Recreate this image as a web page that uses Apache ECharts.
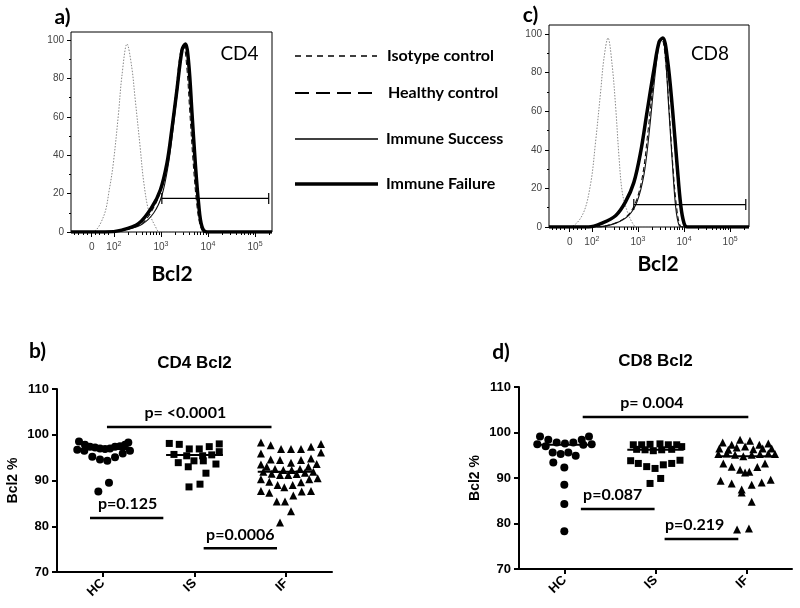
<!DOCTYPE html>
<html><head><meta charset="utf-8">
<script src="https://cdn.jsdelivr.net/npm/echarts@6/dist/echarts.min.js"></script>
<style>html,body{margin:0;padding:0;background:#fff}#c{width:800px;height:608px}</style>
</head><body><div id="c"></div>
<script>
// ---------- Histogram panels (x = Bcl2 fluorescence in decades, logicle display; y = % of max) ----------
const curveNames = ['Isotype control', 'Healthy control', 'Immune Success', 'Immune Failure'];
const histTickLabels = ['0', '10{s|2}', '10{s|3}', '10{s|4}', '10{s|5}'];
const cd4TickValues = [1.53, 2, 3, 4, 5];
const cd8TickValues = [1.52, 2, 3, 4, 5];
const histYTicks = [0, 20, 40, 60, 80, 100];
const histYMinor = [10, 30, 50, 70, 90];

const cd4Isotype = [[1.09,0],[1.53,0],[1.78,8],[1.91,23],[1.99,36],[2.10,62],[2.17,81],[2.28,98],[2.38,86],[2.45,70],[2.56,44],[2.63,27],[2.74,11],[2.88,3],[2.98,0],[5.36,0]];
const cd4Healthy = [[1.09,0],[1.9,0],[2.3,1.5],[2.6,4.5],[2.83,12],[3.0,22],[3.13,37],[3.23,55],[3.33,76],[3.42,94],[3.48,97],[3.55,86],[3.61,64],[3.68,38],[3.76,15],[3.84,3],[3.93,0],[5.36,0]];
const cd4Success = [[1.09,0],[1.9,0],[2.3,1.5],[2.6,4],[2.85,10],[3.02,19],[3.15,34],[3.25,52],[3.35,73],[3.45,94],[3.51,97],[3.58,88],[3.65,62],[3.72,36],[3.79,15],[3.86,3],[3.95,0],[5.36,0]];
const cd4Failure = [[1.09,0],[1.81,0],[2.17,1],[2.53,4.5],[2.81,13],[2.99,22],[3.13,36],[3.23,53],[3.34,74],[3.45,95],[3.52,98],[3.59,88],[3.66,62],[3.73,36],[3.80,15],[3.87,3],[3.98,0],[5.36,0]];
const cd4Gate = [[3.02,17.5],[5.29,17.5]];

const cd8Isotype = [[1.07,0],[1.50,0],[1.79,6],[1.97,22],[2.08,44],[2.19,70],[2.26,87],[2.35,98],[2.44,84],[2.52,61],[2.59,36],[2.66,18],[2.77,8],[2.91,1],[3.0,0],[5.41,0]];
const cd8Healthy = [[1.07,0],[2.1,0],[2.5,2],[2.78,6],[2.97,14],[3.11,28],[3.22,50],[3.34,76],[3.45,95],[3.52,97],[3.60,86],[3.68,60],[3.76,31],[3.84,10],[3.91,1],[3.98,0],[5.41,0]];
const cd8Success = [[1.07,0],[2.1,0],[2.52,2],[2.80,6],[2.98,13],[3.13,27],[3.24,48],[3.35,74],[3.46,95],[3.53,98],[3.60,87],[3.67,61],[3.75,32],[3.82,10],[3.89,1],[3.96,0],[5.41,0]];
const cd8Failure = [[1.07,0],[1.93,0],[2.22,2],[2.52,6],[2.73,13],[2.91,23],[3.06,39],[3.20,60],[3.35,82],[3.46,96],[3.54,98],[3.64,87],[3.75,61],[3.85,32],[3.93,11],[4.0,2],[4.07,0],[5.41,0]];
const cd8Gate = [[2.91,11.6],[5.34,11.6]];

// ---------- Scatter panels (Bcl2 %) ----------
const groups = ['HC', 'IS', 'IF'];

const cd4HC = [[0.221,96.7],[0.240,98.5],[0.305,97.8],[0.360,97.4],[0.415,97.2],[0.469,97.0],[0.524,96.9],[0.578,97.0],[0.633,97.4],[0.687,97.5],[0.742,97.8],[0.778,98.3],[0.796,96.5],[0.298,96.5],[0.385,95.2],[0.469,94.6],[0.549,94.3],[0.633,95.1],[0.717,95.9],[0.567,89.5],[0.451,87.6]];
const cd4IS = [[1.225,98.1],[1.334,97.9],[1.443,96.9],[1.552,96.9],[1.661,97.4],[1.770,98.0],[1.770,96.3],[1.276,95.7],[1.415,95.4],[1.589,95.4],[1.688,95.6],[1.323,93.9],[1.432,93.0],[1.494,94.3],[1.596,94.3],[1.734,93.6],[1.625,91.6],[1.440,88.6],[1.560,89.2]];
const cd4IF = [[2.225,98.3],[2.331,97.7],[2.444,96.9],[2.553,96.9],[2.662,96.9],[2.771,97.4],[2.880,98.0],
  [2.225,95.9],[2.880,96.1],
  [2.331,94.6],[2.433,94.5],[2.553,93.9],[2.662,94.5],[2.771,94.8],
  [2.225,93.5],[2.288,93.0],[2.378,92.5],[2.469,92.3],[2.560,92.3],[2.651,92.5],[2.742,93.0],[2.833,93.6],
  [2.251,91.9],[2.342,91.5],[2.433,91.2],[2.523,91.2],[2.615,91.4],[2.705,91.7],[2.796,91.9],
  [2.225,90.3],[2.316,89.7],[2.407,89.0],[2.480,88.5],[2.571,89.0],[2.662,89.6],[2.752,90.3],[2.844,90.5],
  [2.225,87.7],[2.316,87.3],[2.669,87.6],[2.771,87.7],
  [2.397,85.4],[2.487,85.4],[2.578,86.7],
  [2.553,83.3],[2.433,80.8]];
const cd4Medians = [96.9, 95.6, 91.9];
const cd4PLabels = ['p= <0.0001', 'p=0.125', 'p=0.0006'];
const cd4PBrackets = [[0.545, 2.34, 101.7], [0.36, 1.16, 81.8], [1.60, 2.40, 75.2]];
const cd4PLabelAt = [[1.40, 104.75], [0.77, 84.9], [2.0, 78.1]];

const cd8HC = [[0.231,99.1],[0.322,98.4],[0.414,97.8],[0.505,97.6],[0.597,97.8],[0.689,98.4],[0.769,99.1],[0.201,97.4],[0.293,97.0],[0.799,97.4],[0.707,97.3],[0.370,95.6],[0.458,95.3],[0.542,95.6],[0.623,94.9],[0.377,93.4],[0.498,92.3],[0.498,88.5],[0.498,84.3],[0.498,78.3]];
const cd8IS = [[1.256,97.3],[1.348,97.3],[1.440,97.4],[1.549,97.5],[1.641,97.3],[1.733,97.3],[1.293,96.3],[1.385,96.2],[1.476,96.0],[1.568,96.2],[1.678,96.3],[1.788,96.9],[1.227,93.8],[1.311,93.2],[1.403,92.5],[1.495,92.1],[1.586,92.9],[1.678,93.2],[1.769,93.9],[1.440,88.8],[1.557,89.9]];
const cd8IF = [[2.238,97.8],[2.337,97.3],[2.429,98.4],[2.538,98.2],[2.641,97.3],[2.740,97.6],
  [2.201,96.5],[2.300,96.2],[2.392,96.7],[2.484,96.9],[2.575,96.3],[2.678,96.5],[2.777,96.5],
  [2.190,95.3],[2.282,95.4],[2.374,95.1],[2.465,94.8],[2.557,95.1],[2.648,95.3],[2.740,95.4],[2.813,95.3],
  [2.245,93.2],[2.337,92.5],[2.429,91.8],[2.531,91.4],[2.619,92.4],[2.703,93.2],[2.484,91.2],
  [2.216,89.4],[2.337,88.8],[2.447,87.5],[2.447,86.8],[2.557,88.5],[2.667,89.0],[2.766,89.6],
  [2.557,84.8],[2.396,78.7],[2.527,78.9]];
const cd8Medians = [97.3, 96.2, 94.8];
const cd8PLabels = ['p= 0.004', 'p=0.087', 'p=0.219'];
const cd8PBrackets = [[0.70, 2.52, 103.4], [0.68, 1.49, 83.2], [1.60, 2.41, 76.6]];
const cd8PLabelAt = [[1.46, 106.5], [1.03, 86.3], [1.93, 79.7]];

// ---------- build ----------
const ARIAL = '"Liberation Sans", Arial, sans-serif';

function minorLogTicks(lo, hi) {
  const out = [];
  for (let d = 2; d <= 5; d++) for (let k = 2; k <= 9; k++) { const u = d + Math.log10(k); if (u > lo && u < hi) out.push(u); }
  for (let u = lo + 0.07; u < 1.95; u += 0.09) if (Math.abs(u - 1.53) > 0.04) out.push(u);
  return out;
}

const grids = [
  {left: 71, top: 32, width: 201, height: 200, show: true, borderColor: '#000', borderWidth: 1},
  {left: 549, top: 25, width: 200, height: 202, show: true, borderColor: '#000', borderWidth: 1},
  {left: 57, top: 389, width: 275, height: 183},
  {left: 519, top: 387, width: 273, height: 182}
];
const xAxes = [], yAxes = [], series = [];
const annotations = [];

function histPanel(g, xmin, xmax, ymax, tickVals, curves, gate) {
  const xi = xAxes.length, yi = yAxes.length;
  xAxes.push({type: 'value', gridIndex: g, position: 'bottom', min: xmin, max: xmax, axisLine: {show: false}, splitLine: {show: false},
    axisTick: {show: true, customValues: tickVals, length: 5, lineStyle: {color: '#000', width: 1}},
    axisLabel: {customValues: tickVals, color: '#444', fontSize: 10, fontFamily: ARIAL, margin: 9, lineHeight: 12,
      formatter: v => { const i = tickVals.findIndex(t => Math.abs(t - v) < 1e-6); return i < 0 ? '' : histTickLabels[i]; },
      rich: {s: {fontSize: 7, verticalAlign: 'top', color: '#444', fontFamily: ARIAL, lineHeight: 12, padding: [0, 0, 4, 0]}}}});
  xAxes.push({type: 'value', gridIndex: g, position: 'bottom', min: xmin, max: xmax, axisLine: {show: false}, splitLine: {show: false},
    axisTick: {show: true, customValues: minorLogTicks(xmin, xmax), length: 3, lineStyle: {color: '#000', width: 1}},
    axisLabel: {show: false}});
  yAxes.push({type: 'value', gridIndex: g, position: 'left', min: 0, max: ymax, axisLine: {show: false}, splitLine: {show: false},
    axisTick: {show: true, customValues: histYTicks, length: 4, lineStyle: {color: '#000'}},
    axisLabel: {customValues: histYTicks, color: '#444', fontSize: 10, fontFamily: ARIAL, margin: 7}});
  yAxes.push({type: 'value', gridIndex: g, position: 'left', min: 0, max: ymax, axisLine: {show: false}, splitLine: {show: false},
    axisTick: {show: true, customValues: histYMinor, length: 2, lineStyle: {color: '#000'}}, axisLabel: {show: false}});
  const styles = [
    {color: '#888', width: 1, type: [1.5, 1.5]},
    {color: '#111', width: 1.1, type: [5, 3]},
    {color: '#111', width: 1.1, type: 'solid'},
    {color: '#000', width: 3.5, type: 'solid'}
  ];
  curves.forEach((c, i) => series.push({type: 'line', name: curveNames[i], xAxisIndex: xi, yAxisIndex: yi, data: c,
    smooth: 0.35, symbol: 'none', lineStyle: styles[i], itemStyle: {color: '#000'}, z: 2 + i, silent: true}));
  series.push({type: 'line', xAxisIndex: xi, yAxisIndex: yi, silent: true, z: 10,
    data: gate.map(p => ({value: p, symbol: 'rect', symbolSize: [1.2, 11]})),
    symbol: 'rect', showSymbol: true, lineStyle: {color: '#000', width: 1.2}, itemStyle: {color: '#000'}});
}

function scatterPanel(g, sets, medians, brackets, labels, labelAt) {
  const xi = xAxes.length, yi = yAxes.length;
  const centers = groups.map((_, i) => i + 0.5);
  xAxes.push({type: 'value', gridIndex: g, min: 0, max: 3, splitLine: {show: false},
    axisLine: {show: true, lineStyle: {color: '#000', width: 2}},
    axisTick: {show: true, customValues: centers, length: 5, lineStyle: {color: '#000', width: 2}},
    axisLabel: {customValues: centers, rotate: 45, margin: 9, fontSize: 13, fontWeight: 'bold', color: '#000', fontFamily: ARIAL,
      formatter: v => groups[Math.round(v - 0.5)] || ''}});
  yAxes.push({type: 'value', gridIndex: g, min: 70, max: 110, interval: 10, splitLine: {show: false},
    axisLine: {show: true, lineStyle: {color: '#000', width: 2}},
    axisTick: {show: true, length: 5, lineStyle: {color: '#000', width: 2}},
    axisLabel: {fontSize: 13, fontWeight: 'bold', color: '#000', fontFamily: ARIAL, margin: 8},
    name: 'Bcl2 %', nameLocation: 'middle', nameGap: 37,
    nameTextStyle: {fontSize: 14, fontWeight: 'bold', color: '#000', fontFamily: ARIAL}});
  const syms = ['circle', 'rect', 'triangle'];
  const sizes = [8, 7, 8];
  sets.forEach((d, i) => series.push({type: 'scatter', xAxisIndex: xi, yAxisIndex: yi, data: d, symbol: syms[i],
    symbolSize: sizes[i], itemStyle: {color: '#000', opacity: 1}, silent: true, z: 3}));
  medians.forEach((m, i) => series.push({type: 'line', xAxisIndex: xi, yAxisIndex: yi, silent: true, symbol: 'none', z: 4,
    data: [[centers[i] - 0.31, m], [centers[i] + 0.31, m]], lineStyle: {color: '#000', width: 2}}));
  brackets.forEach(b => series.push({type: 'line', xAxisIndex: xi, yAxisIndex: yi, silent: true, symbol: 'none', z: 4,
    data: [[b[0], b[2]], [b[1], b[2]]], lineStyle: {color: '#000', width: 2.6}}));
  labelAt.forEach((p, i) => annotations.push({xi: xi, yi: yi, at: p, text: labels[i]}));
}

histPanel(0, 1.09, 5.36, 104.2, cd4TickValues, [cd4Isotype, cd4Healthy, cd4Success, cd4Failure], cd4Gate);
histPanel(1, 1.07, 5.41, 104.7, cd8TickValues, [cd8Isotype, cd8Healthy, cd8Success, cd8Failure], cd8Gate);
scatterPanel(2, [cd4HC, cd4IS, cd4IF], cd4Medians, cd4PBrackets, cd4PLabels, cd4PLabelAt);
scatterPanel(3, [cd8HC, cd8IS, cd8IF], cd8Medians, cd8PBrackets, cd8PLabels, cd8PLabelAt);

function txt(text, x, y, font, align) {
  return {type: 'text', x: x, y: y, silent: true, z: 50,
    style: {text: text, font: font, fill: '#000', textAlign: align || 'center', textVerticalAlign: 'middle'}};
}
function keyLine(x1, x2, y, width, dash) {
  return {type: 'line', silent: true, z: 50, shape: {x1: x1, y1: y, x2: x2, y2: y},
    style: {stroke: '#000', lineWidth: width, lineDash: dash || null}};
}
// legend key (line samples + labels)
const legendKey = [
  keyLine(295, 377, 56, 1.6, [6, 5]), txt(curveNames[0], 387, 56, 'bold 16px Lato', 'left'),
  keyLine(295, 372, 93, 2, [14, 7]),  txt(curveNames[1], 388, 93, 'bold 16px Lato', 'left'),
  keyLine(295, 378, 139, 1.6),        txt(curveNames[2], 386, 139, 'bold 16px Lato', 'left'),
  keyLine(295, 378, 184, 3.6),        txt(curveNames[3], 386, 184, 'bold 16px Lato', 'left')
];
const graphics = [
  txt('a)', 62.5, 17, 'bold 21px Lato'),
  txt('c)', 530.5, 15.5, 'bold 21px Lato'),
  txt('b)', 37.5, 351, 'bold 21px Lato'),
  txt('d)', 501, 352.5, 'bold 21px Lato'),
  txt('CD4', 239.5, 54, '19px Lato'),
  txt('CD8', 710, 54, '19px Lato'),
  txt('Bcl2', 172, 274.5, 'bold 21px Lato'),
  txt('Bcl2', 658, 264.5, 'bold 21px Lato'),
  txt('CD4 Bcl2', 194.5, 363.5, 'bold 17px "Liberation Sans"'),
  txt('CD8 Bcl2', 655.5, 361.5, 'bold 17px "Liberation Sans"')
].concat(legendKey);

const chart = echarts.init(document.getElementById('c'), null, {renderer: 'canvas'});
chart.setOption({
  animation: false, backgroundColor: '#fff',
  grid: grids, xAxis: xAxes, yAxis: yAxes, series: series,
  graphic: graphics
});
// p-value labels placed through the axes' own scales
const pText = annotations.map(a => {
  const px = chart.convertToPixel({xAxisIndex: a.xi, yAxisIndex: a.yi}, a.at);
  return txt(a.text, px[0], px[1], 'bold 16px Lato');
});
chart.setOption({graphic: graphics.concat(pText)});
</script></body></html>
